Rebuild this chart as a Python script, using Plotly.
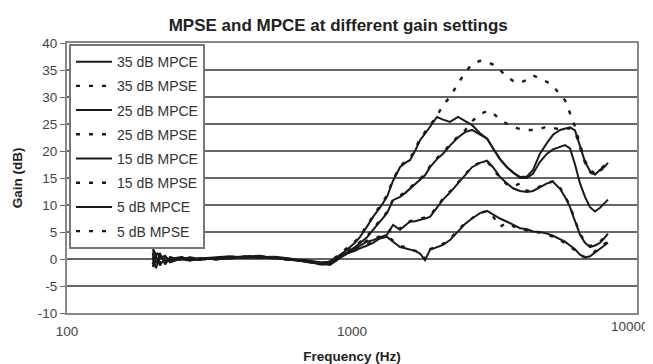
import plotly.graph_objects as go

freq = [200, 205, 212, 221, 230, 249, 270, 293, 331, 373, 421, 476, 537, 606, 684, 772, 837,
        908, 960, 1024, 1067, 1129, 1185, 1253, 1327, 1393, 1474, 1535, 1597, 1664, 1733, 1804,
        1878, 1987, 2086, 2207, 2355, 2492, 2637, 2813, 2977, 3124, 3306, 3499, 3672, 3886,
        4112, 4317, 4567, 4834, 5074, 5370, 5590, 5821, 6061, 6310, 6570, 6841, 7122, 7418,
        7660, 7910]

mpce_35 = [2.0, 0.5, -1.2, 0.3, -0.3, 0.2, -0.2, 0.1, 0.3, 0.5, 0.2, 0.4, 0.2, -0.1, -0.4, -0.8, -0.6,
           0.8, 1.7, 3.0, 4.1, 6.0, 7.8, 9.5, 11.5, 14.5, 17.0, 17.8, 18.3, 20.0, 22.0, 23.2,
           24.5, 26.3, 25.8, 25.4, 26.3, 25.6, 24.8, 23.3, 22.3, 20.5, 18.5, 17.0, 16.0, 15.2,
           15.3, 16.5, 19.5, 21.5, 23.0, 23.9, 24.2, 24.4, 23.8, 21.0, 18.0, 16.3, 15.6, 16.5,
           17.0, 17.8]
mpse_35 = [1.6, 0.9, -0.8, 0.1, -0.5, 0.4, -0.1, 0.0, 0.2, 0.4, 0.3, 0.3, 0.1, -0.2, -0.3, -0.7, -0.5,
           1.0, 1.9, 3.2, 4.3, 6.2, 8.0, 9.7, 11.8, 14.7, 17.2, 18.0, 18.6, 20.3, 22.3, 23.5,
           24.8, 26.5, 28.5, 30.0, 32.5, 34.5, 36.1, 36.7, 36.5, 36.0, 35.0, 33.7, 33.0, 32.6,
           33.2, 34.0, 33.4, 32.8, 32.0, 30.5, 29.4, 27.0, 24.5, 21.2, 18.2, 16.5, 15.8, 16.6,
           17.2, 17.9]
mpce_25 = [1.2, -0.8, 0.8, -0.5, 0.0, 0.3, 0.0, -0.2, 0.2, 0.3, 0.4, 0.6, 0.1, 0.0, -0.3, -1.0, -0.4,
           0.5, 1.2, 2.2, 3.0, 4.0, 5.4, 7.0, 8.5, 10.9, 11.5, 12.2, 13.0, 13.8, 14.6, 15.5,
           17.0, 18.5, 19.5, 21.0, 22.5, 23.5, 23.9, 23.0, 22.3, 20.5, 18.5, 17.0, 16.0, 15.0,
           15.0, 15.8, 18.0, 19.5, 20.3, 20.8, 21.1, 20.5, 17.5, 14.0, 11.5, 9.6, 8.8, 9.5,
           10.2, 11.0]
mpse_25 = [0.9, -0.4, 0.5, -0.3, 0.2, 0.1, 0.1, -0.1, 0.1, 0.2, 0.5, 0.5, 0.2, -0.1, -0.2, -0.9, -0.5,
           0.6, 1.3, 2.4, 3.2, 4.2, 5.6, 7.2, 8.7, 11.0, 11.7, 12.4, 13.2, 14.0, 14.8, 15.7,
           17.2, 18.7, 19.7, 21.2, 22.7, 23.8, 25.5, 26.8, 27.4, 27.0, 25.8, 25.0, 24.4, 24.1,
           23.9, 23.9, 24.1, 24.5, 24.3, 24.0, 24.1, 24.2, 23.6, 20.8, 17.8, 16.1, 15.5, 16.3,
           16.9, 17.6]
mpce_15 = [-1.5, 0.8, 1.0, -1.0, 0.4, -0.2, 0.3, 0.0, 0.0, 0.1, 0.5, 0.2, 0.3, -0.2, -0.2, -0.6, -0.9,
           0.3, 1.0, 1.8, 2.5, 3.2, 3.5, 4.0, 4.5, 6.3, 5.4, 6.2, 6.9, 7.0, 7.2, 7.5,
           7.8, 9.5, 11.0, 12.3, 14.0, 15.5, 17.0, 17.8, 18.2, 17.0, 15.2, 14.0, 13.1, 12.6,
           12.4, 12.6, 13.3, 14.0, 14.3, 13.0, 11.5, 9.6, 7.0, 4.5, 3.0, 2.2, 2.5, 3.0,
           3.8, 4.7]
mpse_15 = [-1.0, 1.2, 0.6, -0.7, 0.2, 0.0, 0.2, 0.1, -0.1, 0.2, 0.4, 0.3, 0.2, -0.1, -0.3, -0.7, -0.8,
           0.4, 1.1, 2.0, 2.6, 3.4, 3.7, 4.2, 4.7, 6.0, 5.6, 6.4, 7.0, 7.2, 7.4, 7.7,
           8.0, 9.7, 11.2, 12.5, 14.2, 15.7, 17.1, 17.9, 18.0, 16.8, 15.0, 13.8, 13.4, 14.0,
           12.6, 12.8, 13.5, 14.1, 14.4, 13.2, 11.7, 9.8, 7.2, 4.7, 3.2, 2.4, 2.7, 3.2,
           4.0, 4.9]
mpce_5 = [0.5, -1.7, 0.2, 0.6, -0.6, 0.0, -0.3, 0.2, -0.1, 0.2, 0.3, 0.3, 0.4, 0.1, -0.5, -0.9, -1.1,
          0.2, 1.0, 1.5, 2.0, 2.5, 3.0, 3.8, 4.1, 3.2, 2.2, 2.0, 1.7, 1.5, 1.0, -0.2,
          1.7, 2.2, 2.6, 3.5, 5.2, 6.5, 7.5, 8.5, 8.9, 8.2, 7.5, 6.9, 6.3, 5.7,
          5.5, 5.1, 5.0, 4.7, 4.3, 3.6, 3.2, 2.5, 1.8, 0.8, 0.3, 0.5, 1.2, 1.9,
          2.5, 3.0]
mpse_5 = [0.2, -1.3, 0.4, 0.3, -0.4, 0.1, -0.2, 0.1, 0.0, 0.1, 0.4, 0.2, 0.3, 0.0, -0.4, -1.0, -1.0,
          0.3, 1.1, 1.7, 2.2, 2.7, 3.2, 4.0, 4.3, 3.4, 2.4, 2.2, 1.9, 1.6, 1.2, 0.0,
          1.8, 2.4, 2.8, 3.7, 5.4, 6.6, 7.6, 8.6, 8.8, 7.9, 6.0, 6.7, 6.1, 5.5,
          5.3, 5.0, 4.9, 4.6, 4.1, 3.4, 3.0, 2.3, 1.6, 0.6, 0.4, 0.7, 1.4, 2.2,
          2.8, 3.3]

series = [
    ("35 dB MPCE", mpce_35, "solid"),
    ("35 dB MPSE", mpse_35, "dot"),
    ("25 dB MPCE", mpce_25, "solid"),
    ("25 dB MPSE", mpse_25, "dot"),
    ("15 dB MPCE", mpce_15, "solid"),
    ("15 dB MPSE", mpse_15, "dot"),
    ("5 dB MPCE", mpce_5, "solid"),
    ("5 dB MPSE", mpse_5, "dot"),
]

y_ticks = [-10, -5, 0, 5, 10, 15, 20, 25, 30, 35, 40]
y_tick_text = ["-10", "-5", "0", "5", "10", "15", "20", "25", "30", "35", "40"]
x_ticks = [100, 1000, 10000]
x_tick_text = ["100", "1000", "10000"]

fig = go.Figure()
for name, vals, style in series:
    dash = "solid" if style == "solid" else "4px,9px"
    fig.add_trace(go.Scatter(
        x=freq, y=vals, name=name, mode="lines", legendgroup=name,
        line=dict(color="#1a1a1a", width=2 if style == "solid" else 2.4, dash=dash),
    ))

font_family = "Liberation Sans, Arial, sans-serif"
tick_font = dict(size=13.5, color="#444", family=font_family)

# the last x tick label sits at the figure's right edge: draw it as an
# annotation anchored to that tick so it stays fully inside the page
fig.add_annotation(
    x=4, xref="x", y=0, yref="paper", text=x_tick_text[-1],
    showarrow=False, xanchor="right", yanchor="top", xshift=14, yshift=-4,
    font=tick_font,
)

fig.update_layout(
    width=645, height=356,
    margin=dict(l=59, r=16, t=35, b=51),
    paper_bgcolor="white", plot_bgcolor="white",
    font=dict(family=font_family, size=13, color="#333"),
    title=dict(text="<b>MPSE and MPCE at different gain settings</b>",
               x=0.512, xanchor="center", y=0.951, yanchor="middle",
               font=dict(size=17, color="#222")),
    showlegend=True,
    legend=dict(x=0.0035, y=0.996, xanchor="left", yanchor="top",
                bgcolor="white", bordercolor="#777", borderwidth=2,
                font=dict(size=14, color="#333"), tracegroupgap=3,
                itemwidth=36),
    xaxis=dict(type="log", range=[2, 4], tickvals=x_ticks[:-1], ticktext=x_tick_text[:-1],
               automargin=False, ticklabelstandoff=5,
               showgrid=False, showline=True, linecolor="#888", linewidth=2,
               mirror=True, ticks="", zeroline=False,
               title=dict(text="<b>Frequency (Hz)</b>", font=dict(size=13.5, color="#222"),
                          standoff=14),
               tickfont=tick_font),
    yaxis=dict(range=[-10, 40], tickvals=y_ticks, ticktext=y_tick_text,
               automargin=False,
               showgrid=True, gridcolor="#666", gridwidth=1.5,
               showline=True, linecolor="#888", linewidth=2, mirror=True,
               ticks="outside", ticklen=5, tickcolor="#666", zeroline=False,
               title=dict(text="<b>Gain (dB)</b>", font=dict(size=13.5, color="#222"),
                          standoff=12),
               tickfont=tick_font),
)

fig.write_html("out.html")
